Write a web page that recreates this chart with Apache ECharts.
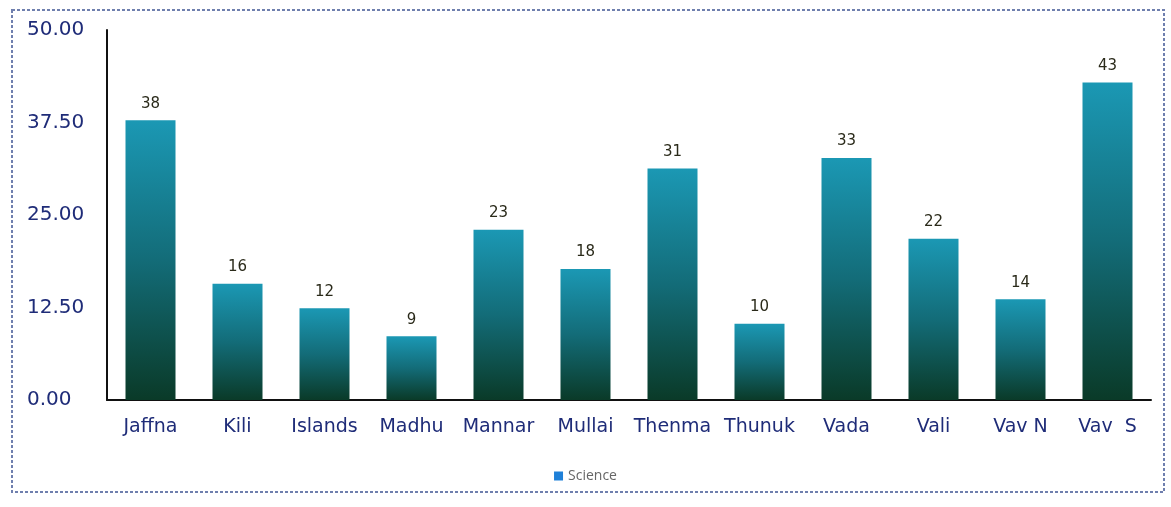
<!DOCTYPE html>
<html>
<head>
<meta charset="utf-8">
<script src="https://cdn.jsdelivr.net/npm/echarts@6/dist/echarts.min.js"></script>
<style>
  html, body { margin: 0; padding: 0; background: #fff; }
  #chart { width: 1171px; height: 507px; }
</style>
</head>
<body>
<div id="chart"></div>
<script>
// categories along the x axis
const districts = ['Jaffna', 'Kili', 'Islands', 'Madhu', 'Mannar', 'Mullai', 'Thenma', 'Thunuk', 'Vada', 'Vali', 'Vav N', 'Vav  S']
// bar heights (labels show them rounded)
const science = [37.8, 15.7, 12.4, 8.6, 23.0, 17.7, 31.3, 10.3, 32.7, 21.8, 13.6, 42.9]
const yTicks = { min: 0, max: 50, step: 12.5 }

const myChart = echarts.init(document.getElementById('chart'))
const option = {
  animation: false,
  graphic: [
    {
      type: 'rect',
      shape: { x: 12, y: 10, width: 1152, height: 482 },
      style: { fill: 'none', stroke: '#6f7fae', lineWidth: 2, lineDash: [3, 2] }
    }
  ],
  legend: {
    data: ['Science'],
    bottom: 19,
    left: 'center',
    itemWidth: 9,
    itemHeight: 9,
    icon: 'rect',
    itemStyle: { color: '#1f80d8' },
    textStyle: { fontFamily: 'Open Sans', fontSize: 14, color: '#666' }
  },
  grid: {
    left: 107,
    right: 20,
    top: 30,
    bottom: 107
  },
  xAxis: {
    type: 'category',
    data: districts,
    axisLine: { lineStyle: { color: '#111', width: 2 } },
    axisTick: { show: false },
    axisLabel: {
      margin: 18,
      interval: 0,
      fontFamily: 'DejaVu Sans',
      fontSize: 19,
      color: '#1f2c78'
    }
  },
  yAxis: {
    type: 'value',
    min: yTicks.min,
    max: yTicks.max,
    interval: yTicks.step,
    axisLine: { show: true, lineStyle: { color: '#111', width: 2 } },
    axisTick: { show: false },
    splitLine: { show: false },
    axisLabel: {
      align: 'left',
      margin: 80,
      fontFamily: 'DejaVu Sans',
      fontSize: 20,
      color: '#1f2c78',
      formatter: function (v) {
        return v.toFixed(2)
      }
    }
  },
  series: [
    {
      name: 'Science',
      type: 'bar',
      data: science,
      barWidth: 50,
      itemStyle: {
        // teal at the top fading to dark green at the base
        color: new echarts.graphic.LinearGradient(0, 0, 0, 1, [
          { offset: 0, color: '#1b98b4' },
          { offset: 0.5, color: '#136c78' },
          { offset: 1, color: '#0a3a28' }
        ])
      },
      label: {
        show: true,
        position: 'top',
        distance: 9,
        fontFamily: 'DejaVu Sans',
        fontSize: 15,
        color: '#2a2a1a',
        formatter: function (p) {
          return Math.round(p.value)
        }
      }
    }
  ]
}
myChart.setOption(option)
</script>
</body>
</html>
